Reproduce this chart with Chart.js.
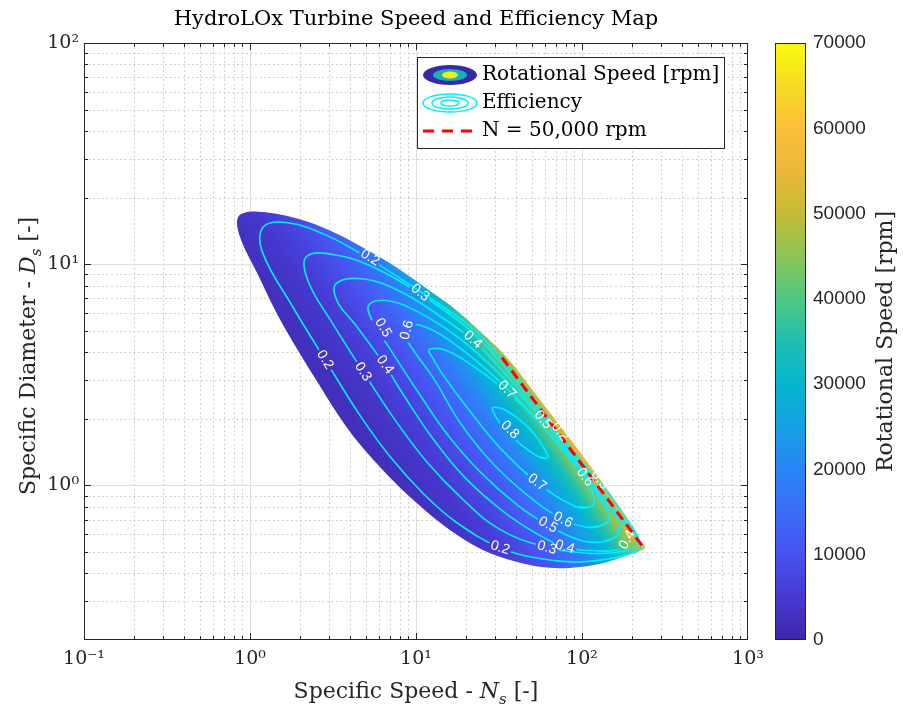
<!DOCTYPE html>
<html>
<head>
<meta charset="utf-8">
<script src="https://cdn.jsdelivr.net/npm/chart.js@4.4.1/dist/chart.umd.min.js"></script>
<style>
  html, body { margin: 0; padding: 0; background: #fff; }
  #wrap { position: relative; width: 903px; height: 709px; }
  #mapChart { position: absolute; left: 0; top: 0; }
  #barChart { position: absolute; left: 760px; top: 0; }
</style>
</head>
<body>
<div id="wrap">
  <canvas id="mapChart" width="903" height="709"></canvas>
  <canvas id="barChart" width="143" height="709"></canvas>
</div>
<script>
// axis decades that get a label
const nsDecades = [0.1, 1, 10, 100, 1000];
const dsDecades = [1, 10, 100];
const speedTicks = [0, 10000, 20000, 30000, 40000, 50000, 60000, 70000];

// outline of the speed map (specific speed Ns, specific diameter Ds)
const regionNs = [240, 203, 142, 97.3, 64.1, 40.6, 25.3, 16.0, 10.1, 6.3, 4.0, 2.50, 1.52, 1.10, 0.87,
                  0.85, 1.07, 1.92, 3.03, 4.79, 7.68, 12.1, 16.5, 22.0, 35.3, 55.8, 88.3, 136, 187, 223];
const regionDs = [0.522, 0.495, 0.451, 0.428, 0.424, 0.451, 0.511, 0.629, 0.833, 1.175, 1.746, 3.0, 5.61, 9.16, 13.3,
                  16.4, 17.3, 16.1, 14.2, 11.9, 9.64, 7.59, 6.42, 5.32, 3.78, 2.44, 1.56, 1.005, 0.713, 0.567];

// efficiency contours
const effLevels = [0.2, 0.3, 0.4, 0.5, 0.6, 0.7, 0.8];
const eff02Ns = [223, 217, 184, 137, 85.8, 54.6, 34.8, 21.5, 11.6, 5.23, 2.89, 1.69, 1.21, 1.18, 1.82, 2.84, 4.63, 7.13, 11.2, 17.4, 31.9, 55.7, 91.6, 144, 192];
const eff02Ds = [0.517, 0.585, 0.711, 0.963, 1.473, 2.322, 3.554, 5.19, 7.19, 10.57, 13.5, 15.39, 14.80, 11.49, 6.37, 3.694, 2.057, 1.322, 0.910, 0.683, 0.524, 0.467, 0.450, 0.465, 0.489];
const eff03Ns = [207, 211, 162, 122, 84.3, 53.1, 33.2, 20.5, 10.4, 5.79, 3.31, 2.19, 2.24, 3.13, 4.81, 7.47, 11.5, 18.6, 31.8, 61.1, 102, 160];
const eff03Ds = [0.525, 0.588, 0.759, 1.021, 1.449, 2.266, 3.515, 5.135, 7.396, 9.53, 11.0, 10.83, 8.38, 5.43, 3.263, 1.978, 1.290, 0.883, 0.634, 0.525, 0.495, 0.497];
const eff04Ns = [192, 193, 160, 119, 82.8, 51.7, 32.0, 21.8, 14.1, 7.78, 4.73, 3.31, 3.35, 4.35, 6.47, 8.36, 12.5, 19.6, 32.9, 52.2, 78.9, 125, 166];
const eff04Ds = [0.558, 0.620, 0.746, 0.997, 1.426, 2.212, 3.404, 4.550, 5.796, 7.627, 8.588, 8.182, 6.81, 5.28, 3.512, 2.584, 1.645, 1.090, 0.771, 0.611, 0.527, 0.506, 0.513];
const eff05Ns = [163, 170, 143, 117, 82.1, 57.9, 31.3, 18.7, 10.4, 6.68, 5.20, 5.47, 6.91, 10.3, 15.5, 24.6, 41.4, 62.3, 98.1, 134];
const eff05Ds = [0.594, 0.671, 0.797, 0.981, 1.415, 1.982, 3.227, 4.565, 6.055, 6.85, 6.53, 5.529, 4.183, 2.642, 1.696, 1.142, 0.807, 0.661, 0.564, 0.556];
const eff06Ns = [136, 146, 135, 104, 70.7, 44.4, 26.9, 15.6, 11.3, 9.10, 8.60, 9.80, 13.0, 18.1, 28.1, 46.8, 76.8, 110];
const eff06Ds = [0.665, 0.709, 0.818, 1.086, 1.552, 2.304, 3.311, 4.573, 5.22, 5.29, 4.78, 4.017, 2.982, 1.960, 1.288, 0.904, 0.702, 0.645];
const eff07Ns = [114, 119, 105, 78.0, 53.6, 34.7, 21.8, 15.1, 12.0, 12.6, 14.7, 20.7, 32.4, 53.9, 91.9];
const eff07Ds = [0.802, 0.860, 1.063, 1.441, 1.970, 2.683, 3.485, 4.083, 4.107, 3.771, 3.123, 2.211, 1.466, 1.028, 0.801];
const eff08Ns = [62.2, 57.7, 46.6, 34.9, 29.1, 29.4, 32.6, 41.5, 55.2];
const eff08Ds = [1.336, 1.518, 1.852, 2.182, 2.251, 2.122, 1.886, 1.561, 1.344];

// N = 50,000 rpm limit line
const limitRpm = 50000;
const limitNs = [33, 60, 100, 150, 233];
const limitDs = [3.78, 2.07, 1.24, 0.825, 0.527];

// how speed grows with Ns and Ds over the map (read from the shading)
const speedExp = [1.1, 1.0];

// contour labels (value, where it sits, text angle in degrees)
const effLabels = [
  { v: 0.2, ns: 5.28, ds: 10.7, rot: 31 },
  { v: 0.3, ns: 10.6, ds: 7.43, rot: 38 },
  { v: 0.4, ns: 22.0, ds: 4.55, rot: 41 },
  { v: 0.5, ns: 6.33, ds: 5.16, rot: 60 },
  { v: 0.6, ns: 8.84, ds: 5.03, rot: -75 },
  { v: 0.2, ns: 2.83, ds: 3.70, rot: 58 },
  { v: 0.3, ns: 4.79, ds: 3.26, rot: 57 },
  { v: 0.4, ns: 6.51, ds: 3.51, rot: 55 },
  { v: 0.7, ns: 35.3, ds: 2.70, rot: 45 },
  { v: 0.8, ns: 36.8, ds: 1.78, rot: 45 },
  { v: 0.5, ns: 58.2, ds: 1.98, rot: 50 },
  { v: 0.2, ns: 73.7, ds: 1.75, rot: 53 },
  { v: 0.6, ns: 104, ds: 1.09, rot: 53 },
  { v: 0.3, ns: 128, ds: 1.06, rot: 53 },
  { v: 0.7, ns: 53.6, ds: 1.03, rot: 37 },
  { v: 0.6, ns: 76.8, ds: 0.698, rot: 28 },
  { v: 0.5, ns: 62.4, ds: 0.663, rot: 29 },
  { v: 0.4, ns: 79.0, ds: 0.527, rot: 16 },
  { v: 0.3, ns: 61.5, ds: 0.522, rot: 16 },
  { v: 0.2, ns: 32.1, ds: 0.522, rot: 18 },
  { v: 0.4, ns: 187, ds: 0.567, rot: -62 }
];

const SERIF = '"DejaVu Serif", serif';
const SANS = '"Liberation Sans", Arial, sans-serif';
const INK = '#262626';
const CYAN = 'rgb(0,238,255)';
const LABEL_FONT = '14px ' + SANS;

// parula colour map, sampled
const PARULA = [
  [0.000, 62, 38, 168], [0.070, 70, 57, 208], [0.143, 72, 82, 240], [0.214, 60, 108, 248],
  [0.286, 42, 132, 246], [0.357, 22, 160, 228], [0.429, 6, 181, 208], [0.500, 30, 191, 176],
  [0.571, 78, 200, 132], [0.643, 140, 196, 88], [0.714, 196, 187, 52], [0.786, 236, 184, 56],
  [0.857, 252, 190, 58], [0.929, 246, 218, 36], [1.000, 249, 251, 14]
];

function parula(f) {
  f = Math.min(1, Math.max(0, f));
  for (let i = 1; i < PARULA.length; i++) {
    const a = PARULA[i - 1], b = PARULA[i];
    if (f <= b[0]) {
      const t = (f - a[0]) / (b[0] - a[0]);
      const c = [1, 2, 3].map(k => Math.round(a[k] + t * (b[k] - a[k])));
      return `rgb(${c[0]},${c[1]},${c[2]})`;
    }
  }
  return 'rgb(249,251,14)';
}

// shading of the map, pinned to 50,000 rpm at the middle of the limit line
function speedGradient(chart) {
  const area = chart.chartArea;
  if (!area) return parula(0.1);
  const xs = chart.scales.x, ys = chart.scales.y;
  const [ea, eb] = speedExp;
  const ax = xs.getPixelForValue(10) - xs.getPixelForValue(1);
  const ay = ys.getPixelForValue(1) - ys.getPixelForValue(10);
  const ns0 = limitNs[2], ds0 = limitDs[2];
  const rpmMax = speedTicks[speedTicks.length - 1];
  const rpmMin = 0.01 * rpmMax;
  const lxA = Math.log10(ns0) + Math.log10(rpmMin / limitRpm) / ea;
  const x0 = xs.getPixelForValue(Math.pow(10, lxA)), y0 = ys.getPixelForValue(ds0);
  const span = Math.log10(rpmMax / rpmMin);
  const k = span / (ea * ea / (ax * ax) + eb * eb / (ay * ay));
  const g = chart.ctx.createLinearGradient(x0, y0, x0 + k * ea / ax, y0 - k * eb / ay);
  for (let i = 0; i <= 60; i++) {
    const t = i / 60;
    g.addColorStop(t, parula(rpmMin * Math.pow(10, t * span) / rpmMax));
  }
  return g;
}

function barGradient(chart) {
  const a = chart.chartArea;
  if (!a) return parula(0);
  const g = chart.ctx.createLinearGradient(0, a.bottom, 0, a.top);
  PARULA.forEach(s => g.addColorStop(s[0], `rgb(${s[1]},${s[2]},${s[3]})`));
  return g;
}

const SUP = { '-': '\u207B', '0': '\u2070', '1': '\u00B9', '2': '\u00B2', '3': '\u00B3' };
function decadeLabel(v, list) {
  const hit = list.find(d => Math.abs(Math.log10(v) - Math.log10(d)) < 1e-6);
  if (hit === undefined) return '';
  return '10' + String(Math.round(Math.log10(hit))).split('').map(c => SUP[c]).join('');
}

function logSteps(lo, hi) {
  const out = [];
  for (let e = Math.floor(Math.log10(lo) + 1e-9); e <= Math.ceil(Math.log10(hi) - 1e-9); e++) {
    for (let k = 1; k <= 9; k++) {
      const v = k * Math.pow(10, e);
      if (v > lo * 1.0001 && v < hi * 0.9999) out.push({ v, major: k === 1 });
    }
  }
  return out;
}

function drawRich(ctx, parts, size, cx, base) {
  const fonts = parts.map(p => p[1] === 'sub' ? `italic ${Math.round(size * 0.7)}px ${SERIF}`
    : p[1] === 'i' ? `italic ${size}px ${SERIF}` : `${size}px ${SERIF}`);
  let w = 0;
  parts.forEach((p, i) => { ctx.font = fonts[i]; w += ctx.measureText(p[0]).width; });
  let x = cx - w / 2;
  ctx.textAlign = 'left';
  ctx.textBaseline = 'alphabetic';
  parts.forEach((p, i) => {
    ctx.font = fonts[i];
    ctx.fillText(p[0], x, p[1] === 'sub' ? base + size * 0.25 : base);
    x += ctx.measureText(p[0]).width;
  });
}

function drawLegend(ctx) {
  const L = 417, T = 57, W = 307, H = 91;
  const rows = [T + 18, T + 46, T + 74];
  const cx = L + 33;
  ctx.save();
  ctx.fillStyle = '#fff';
  ctx.fillRect(L, T, W, H);
  ctx.strokeStyle = INK;
  ctx.lineWidth = 1;
  ctx.strokeRect(L + 0.5, T + 0.5, W, H);

  [[27, 10, 'rgb(55,40,165)'], [17, 6, 'rgb(25,175,185)'], [8, 3.5, 'rgb(240,240,25)']].forEach(e => {
    ctx.fillStyle = e[2];
    ctx.beginPath();
    ctx.ellipse(cx, rows[0], e[0], e[1], 0, 0, Math.PI * 2);
    ctx.fill();
  });
  ctx.strokeStyle = CYAN;
  ctx.lineWidth = 1.5;
  [[27, 9], [18, 6], [9, 3]].forEach(e => {
    ctx.beginPath();
    ctx.ellipse(cx, rows[1], e[0], e[1], 0, 0, Math.PI * 2);
    ctx.stroke();
  });
  ctx.strokeStyle = '#ff0000';
  ctx.lineWidth = 3;
  ctx.setLineDash([11, 8]);
  ctx.beginPath();
  ctx.moveTo(cx - 27, rows[2]);
  ctx.lineTo(cx + 28, rows[2]);
  ctx.stroke();
  ctx.setLineDash([]);

  ctx.fillStyle = '#000';
  ctx.font = `20px ${SERIF}`;
  ctx.textAlign = 'left';
  ctx.textBaseline = 'middle';
  ctx.fillText('Rotational Speed [rpm]', L + 65, rows[0]);
  ctx.fillText('Efficiency', L + 65, rows[1]);
  ctx.fillText(`N = ${limitRpm.toLocaleString('en-US')} rpm`, L + 65, rows[2]);
  ctx.restore();
}

const mapDecor = {
  id: 'mapDecor',
  beforeDatasetsDraw(chart) {
    const { ctx, chartArea: a, scales: { x, y } } = chart;
    ctx.save();
    ctx.lineWidth = 1;
    const line = (major, x1, y1, x2, y2) => {
      ctx.strokeStyle = major ? '#dedede' : '#cfcfcf';
      ctx.setLineDash(major ? [] : [2, 2.5]);
      ctx.beginPath();
      ctx.moveTo(x1, y1);
      ctx.lineTo(x2, y2);
      ctx.stroke();
    };
    logSteps(x.min, x.max).forEach(t => {
      const p = Math.round(x.getPixelForValue(t.v)) + 0.5;
      line(t.major, p, a.top, p, a.bottom);
    });
    logSteps(y.min, y.max).forEach(t => {
      const p = Math.round(y.getPixelForValue(t.v)) + 0.5;
      line(t.major, a.left, p, a.right, p);
    });
    ctx.restore();
  },
  beforeDatasetDraw(chart, args) {
    const level = chart.data.datasets[args.index].effLevel;
    if (level === undefined) return;
    const { ctx, chartArea: a, scales: { x, y } } = chart;
    ctx.save();
    ctx.font = LABEL_FONT;
    ctx.beginPath();
    ctx.rect(a.left, a.top, a.width, a.height);
    effLabels.filter(l => l.v === level).forEach(l => {
      const w = ctx.measureText(l.v.toFixed(1)).width + 4;
      ctx.save();
      ctx.translate(x.getPixelForValue(l.ns), y.getPixelForValue(l.ds));
      ctx.rotate(l.rot * Math.PI / 180);
      ctx.rect(-w / 2, -7, w, 14);
      ctx.restore();
    });
    ctx.clip('evenodd');
  },
  afterDatasetDraw(chart, args) {
    if (chart.data.datasets[args.index].effLevel !== undefined) chart.ctx.restore();
  },
  afterDatasetsDraw(chart) {
    const { ctx, chartArea: a, scales: { x, y } } = chart;
    ctx.save();
    // contour labels
    ctx.fillStyle = '#fff';
    ctx.font = LABEL_FONT;
    ctx.textAlign = 'center';
    ctx.textBaseline = 'middle';
    effLabels.forEach(l => {
      ctx.save();
      ctx.translate(x.getPixelForValue(l.ns), y.getPixelForValue(l.ds));
      ctx.rotate(l.rot * Math.PI / 180);
      ctx.fillText(l.v.toFixed(1), 0, 0);
      ctx.restore();
    });
    // box and inward ticks
    ctx.strokeStyle = INK;
    ctx.lineWidth = 1;
    ctx.strokeRect(a.left + 0.5, a.top + 0.5, a.width - 1, a.height - 1);
    ctx.beginPath();
    logSteps(x.min, x.max).forEach(t => {
      const p = Math.round(x.getPixelForValue(t.v)) + 0.5, len = t.major ? 7 : 4;
      ctx.moveTo(p, a.bottom); ctx.lineTo(p, a.bottom - len);
      ctx.moveTo(p, a.top); ctx.lineTo(p, a.top + len);
    });
    logSteps(y.min, y.max).forEach(t => {
      const p = Math.round(y.getPixelForValue(t.v)) + 0.5, len = t.major ? 7 : 4;
      ctx.moveTo(a.left, p); ctx.lineTo(a.left + len, p);
      ctx.moveTo(a.right, p); ctx.lineTo(a.right - len, p);
    });
    ctx.stroke();
    ctx.restore();
  },
  afterDraw(chart) {
    const { ctx, chartArea: a } = chart;
    const mid = (a.left + a.right) / 2;
    ctx.save();
    ctx.fillStyle = '#000';
    ctx.font = `21px ${SERIF}`;
    ctx.textAlign = 'center';
    ctx.textBaseline = 'alphabetic';
    ctx.fillText('HydroLOx Turbine Speed and Efficiency Map', mid, 25);
    ctx.fillStyle = INK;
    drawRich(ctx, [['Specific Speed - ', ''], ['N', 'i'], ['s', 'sub'], [' [-]', '']], 22, mid, 698);
    ctx.translate(35, 356);
    ctx.rotate(-Math.PI / 2);
    drawRich(ctx, [['Specific Diameter - ', ''], ['D', 'i'], ['s', 'sub'], [' [-]', '']], 22, 0, 0);
    ctx.restore();
    drawLegend(ctx);
  }
};

const xy = (ns, ds) => ns.map((v, i) => ({ x: v, y: ds[i] }));
const loop = pts => [pts[pts.length - 1], ...pts, pts[0], pts[1]];
const effSeries = [[eff02Ns, eff02Ds], [eff03Ns, eff03Ds], [eff04Ns, eff04Ds], [eff05Ns, eff05Ds],
                   [eff06Ns, eff06Ds], [eff07Ns, eff07Ds], [eff08Ns, eff08Ds]];

const datasets = [
  {
    label: `N = ${limitRpm.toLocaleString('en-US')} rpm`,
    data: xy(limitNs, limitDs),
    borderColor: '#ff0000',
    borderWidth: 3,
    borderDash: [10, 6],
    tension: 0,
    fill: false,
    order: 1
  },
  ...effSeries.map((s, i) => ({
    label: 'Efficiency ' + effLevels[i],
    effLevel: effLevels[i],
    data: loop(xy(s[0], s[1])),
    borderColor: CYAN,
    borderWidth: 1.6,
    tension: 0.4,
    fill: false,
    order: 2
  })),
  {
    label: 'Rotational Speed [rpm]',
    data: loop(xy(regionNs, regionDs)),
    borderWidth: 0,
    borderColor: 'rgba(0,0,0,0)',
    backgroundColor: c => speedGradient(c.chart),
    tension: 0.35,
    fill: 'shape',
    order: 3
  }
];

new Chart(document.getElementById('mapChart'), {
  type: 'line',
  data: { datasets },
  options: {
    responsive: false,
    animation: false,
    events: [],
    layout: { padding: { top: 43, right: 155, left: 0, bottom: 0 } },
    elements: { point: { radius: 0 } },
    plugins: { legend: { display: false }, tooltip: { enabled: false }, title: { display: false } },
    scales: {
      x: {
        type: 'logarithmic',
        min: nsDecades[0],
        max: nsDecades[nsDecades.length - 1],
        grid: { display: false, drawTicks: false },
        border: { display: false },
        ticks: {
          autoSkip: false, maxRotation: 0, minRotation: 0, padding: 8, color: INK,
          font: { family: SERIF, size: 19 },
          callback: v => decadeLabel(v, nsDecades)
        },
        afterFit: s => { s.height = 69; }
      },
      y: {
        type: 'logarithmic',
        min: 0.2,
        max: dsDecades[dsDecades.length - 1],
        grid: { display: false, drawTicks: false },
        border: { display: false },
        ticks: {
          autoSkip: false, padding: 5, color: INK,
          font: { family: SERIF, size: 19 },
          callback: v => decadeLabel(v, dsDecades)
        },
        afterFit: s => { s.width = 84; }
      }
    }
  },
  plugins: [mapDecor]
});

const barDecor = {
  id: 'barDecor',
  afterDraw(chart) {
    const { ctx, chartArea: a } = chart;
    ctx.save();
    ctx.strokeStyle = INK;
    ctx.lineWidth = 1;
    ctx.strokeRect(a.left + 0.5, a.top + 0.5, a.width - 1, a.height - 1);
    ctx.translate(132, (a.top + a.bottom) / 2);
    ctx.rotate(-Math.PI / 2);
    ctx.fillStyle = INK;
    ctx.font = `22px ${SERIF}`;
    ctx.textAlign = 'center';
    ctx.textBaseline = 'alphabetic';
    ctx.fillText('Rotational Speed [rpm]', 0, 0);
    ctx.restore();
  }
};

new Chart(document.getElementById('barChart'), {
  type: 'bar',
  data: {
    labels: ['Rotational Speed [rpm]'],
    datasets: [{
      data: [[speedTicks[0], speedTicks[speedTicks.length - 1]]],
      backgroundColor: c => barGradient(c.chart),
      borderWidth: 0,
      barPercentage: 1,
      categoryPercentage: 1
    }]
  },
  options: {
    responsive: false,
    animation: false,
    events: [],
    layout: { padding: { left: 15, top: 43, bottom: 69, right: 0 } },
    plugins: { legend: { display: false }, tooltip: { enabled: false } },
    scales: {
      x: { display: false },
      y: {
        position: 'right',
        min: speedTicks[0],
        max: speedTicks[speedTicks.length - 1],
        afterBuildTicks: s => { s.ticks = speedTicks.map(v => ({ value: v })); },
        grid: { display: false, drawTicks: false },
        border: { display: false },
        ticks: { padding: 7, color: INK, font: { family: SANS, size: 19 }, callback: v => String(v) },
        afterFit: s => { s.width = 97; }
      }
    }
  },
  plugins: [barDecor]
});
</script>
</body>
</html>
